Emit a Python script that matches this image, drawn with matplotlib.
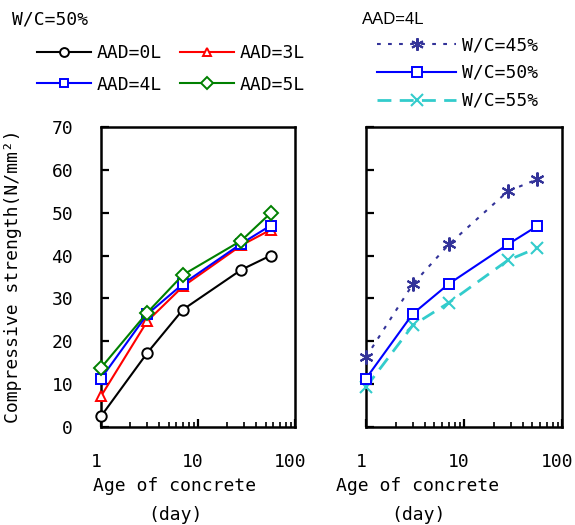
import matplotlib
matplotlib.use("Agg")
import matplotlib.pyplot as plt
import matplotlib.transforms as mtransforms
from matplotlib.ticker import LogLocator, NullFormatter, FixedLocator, FixedFormatter

# ---- data ----
days = [1, 3, 7, 28, 56]
aad_labels = ["AAD=0L", "AAD=3L", "AAD=4L", "AAD=5L"]
aad_0 = [2.5, 17.3, 27.4, 36.7, 40.0]
aad_3 = [7.2, 24.7, 32.8, 42.4, 46.0]
aad_4 = [11.3, 26.3, 33.4, 42.8, 47.0]
aad_5 = [13.8, 26.7, 35.5, 43.5, 49.9]

wc_labels = ["W/C=45%", "W/C=50%", "W/C=55%"]
wc_45 = [16.3, 33.3, 42.6, 55.0, 57.8]
wc_50 = [11.3, 26.4, 33.4, 42.6, 46.9]
wc_55 = [9.3, 23.7, 29.0, 38.9, 41.8]

yticks = [0, 10, 20, 30, 40, 50, 60, 70]
xticks = [1, 10, 100]
xticklabels = ["1", "10", "100"]

MONO = ["DejaVu Sans Mono"]
FS = 13

fig = plt.figure(figsize=(5.75, 5.25), dpi=100)
W, H = 575, 525

def axrect(x0, x1, y0, y1):
    return [x0 / W, 1 - y1 / H, (x1 - x0) / W, (y1 - y0) / H]

axL = fig.add_axes(axrect(101, 295, 127, 427))
axR = fig.add_axes(axrect(366, 562, 127, 427))

ms = 7.5
mew = 1.4
lw = 1.5

lines_left = []
for vals, col, mk, lab in zip([aad_0, aad_3, aad_4, aad_5],
                              ["black", "#ff0000", "#0000ff", "#008000"],
                              ["o", "^", "s", "D"], aad_labels):
    msz = 6.8 if mk == "D" else ms
    l, = axL.plot(days, vals, color=col, lw=lw, marker=mk, ms=msz,
                  mfc="white", mec=col, mew=mew, label=lab, clip_on=False, zorder=3)
    lines_left.append(l)

lr1, = axR.plot(days, wc_45, color="#333399", lw=lw, marker=(6, 2, 0), ms=10,
                mew=1.5, mec="#333399", dashes=(1.8, 3.5), label=wc_labels[0],
                clip_on=False, zorder=3)
lr2, = axR.plot(days, wc_50, color="#0000ff", lw=lw, marker="s", ms=ms,
                mfc="white", mec="#0000ff", mew=mew, label=wc_labels[1],
                clip_on=False, zorder=4)
lr3, = axR.plot(days, wc_55, color="#33cccc", lw=2.0, marker="x", ms=9,
                mew=1.5, mec="#33cccc", dashes=(5, 3), label=wc_labels[2],
                clip_on=False, zorder=3)

offset = mtransforms.ScaledTranslation(-5 / 100, 0, fig.dpi_scale_trans)
for ax in (axL, axR):
    ax.set_xscale("log")
    ax.set_xlim(1, 100)
    ax.set_ylim(0, 70)
    ax.xaxis.set_major_locator(FixedLocator(xticks))
    ax.xaxis.set_major_formatter(FixedFormatter(xticklabels))
    ax.xaxis.set_minor_locator(LogLocator(base=10, subs=range(2, 10)))
    ax.xaxis.set_minor_formatter(NullFormatter())
    ax.set_yticks(yticks)
    ax.tick_params(axis="both", which="major", direction="in", length=6, width=1.6,
                   labelsize=FS, pad=19)
    ax.tick_params(axis="x", which="minor", direction="in", length=3.5, width=1.2)
    ax.tick_params(axis="y", which="major", pad=20)
    for s in ax.spines.values():
        s.set_linewidth(1.8)
    for lab in ax.get_xticklabels():
        lab.set_fontfamily(MONO)
        lab.set_transform(lab.get_transform() + offset)
    for lab in ax.get_yticklabels():
        lab.set_fontfamily(MONO)

axR.tick_params(axis="y", labelleft=False)

axL.set_ylabel("Compressive strength(N/mm²)", fontsize=FS, family=MONO)
axL.yaxis.set_label_coords(22 / W, 1 - 276 / H, transform=fig.transFigure)

for cx in (175, 418):
    fig.text(cx / W, 1 - 486 / H, "Age of concrete", ha="center", va="center",
             fontsize=FS, family=MONO)
    fig.text(cx / W, 1 - 515 / H, "(day)", ha="center", va="center",
             fontsize=FS, family=MONO)

fig.text(12 / W, 1 - 20 / H, "W/C=50%", ha="left", va="center", fontsize=FS, family=MONO)
fig.text(362 / W, 1 - 20 / H, "AAD=4L", ha="left", va="center", fontsize=12,
         family=["Liberation Sans", "DejaVu Sans"])

# order so rows read: 0L 3L / 4L 5L (legend fills column-first)
legL = fig.legend(handles=[lines_left[0], lines_left[2], lines_left[1], lines_left[3]],
                  loc="upper left",
                  bbox_to_anchor=(37 / W, 1 - 44 / H), ncol=2, frameon=False,
                  borderpad=0, borderaxespad=0, handlelength=3.0, handletextpad=0.3,
                  columnspacing=1.0, labelspacing=0.75, numpoints=1, markerscale=0.85,
                  prop={"family": MONO, "size": FS})
legR = fig.legend(handles=[lr1, lr2, lr3], loc="upper left",
                  bbox_to_anchor=(377 / W, 1 - 36 / H), ncol=1, frameon=False,
                  borderpad=0, borderaxespad=0, handlelength=4.4, handletextpad=0.3,
                  labelspacing=0.55, numpoints=1, markerscale=0.9,
                  prop={"family": MONO, "size": FS})

fig.savefig("out.png", dpi=100)
